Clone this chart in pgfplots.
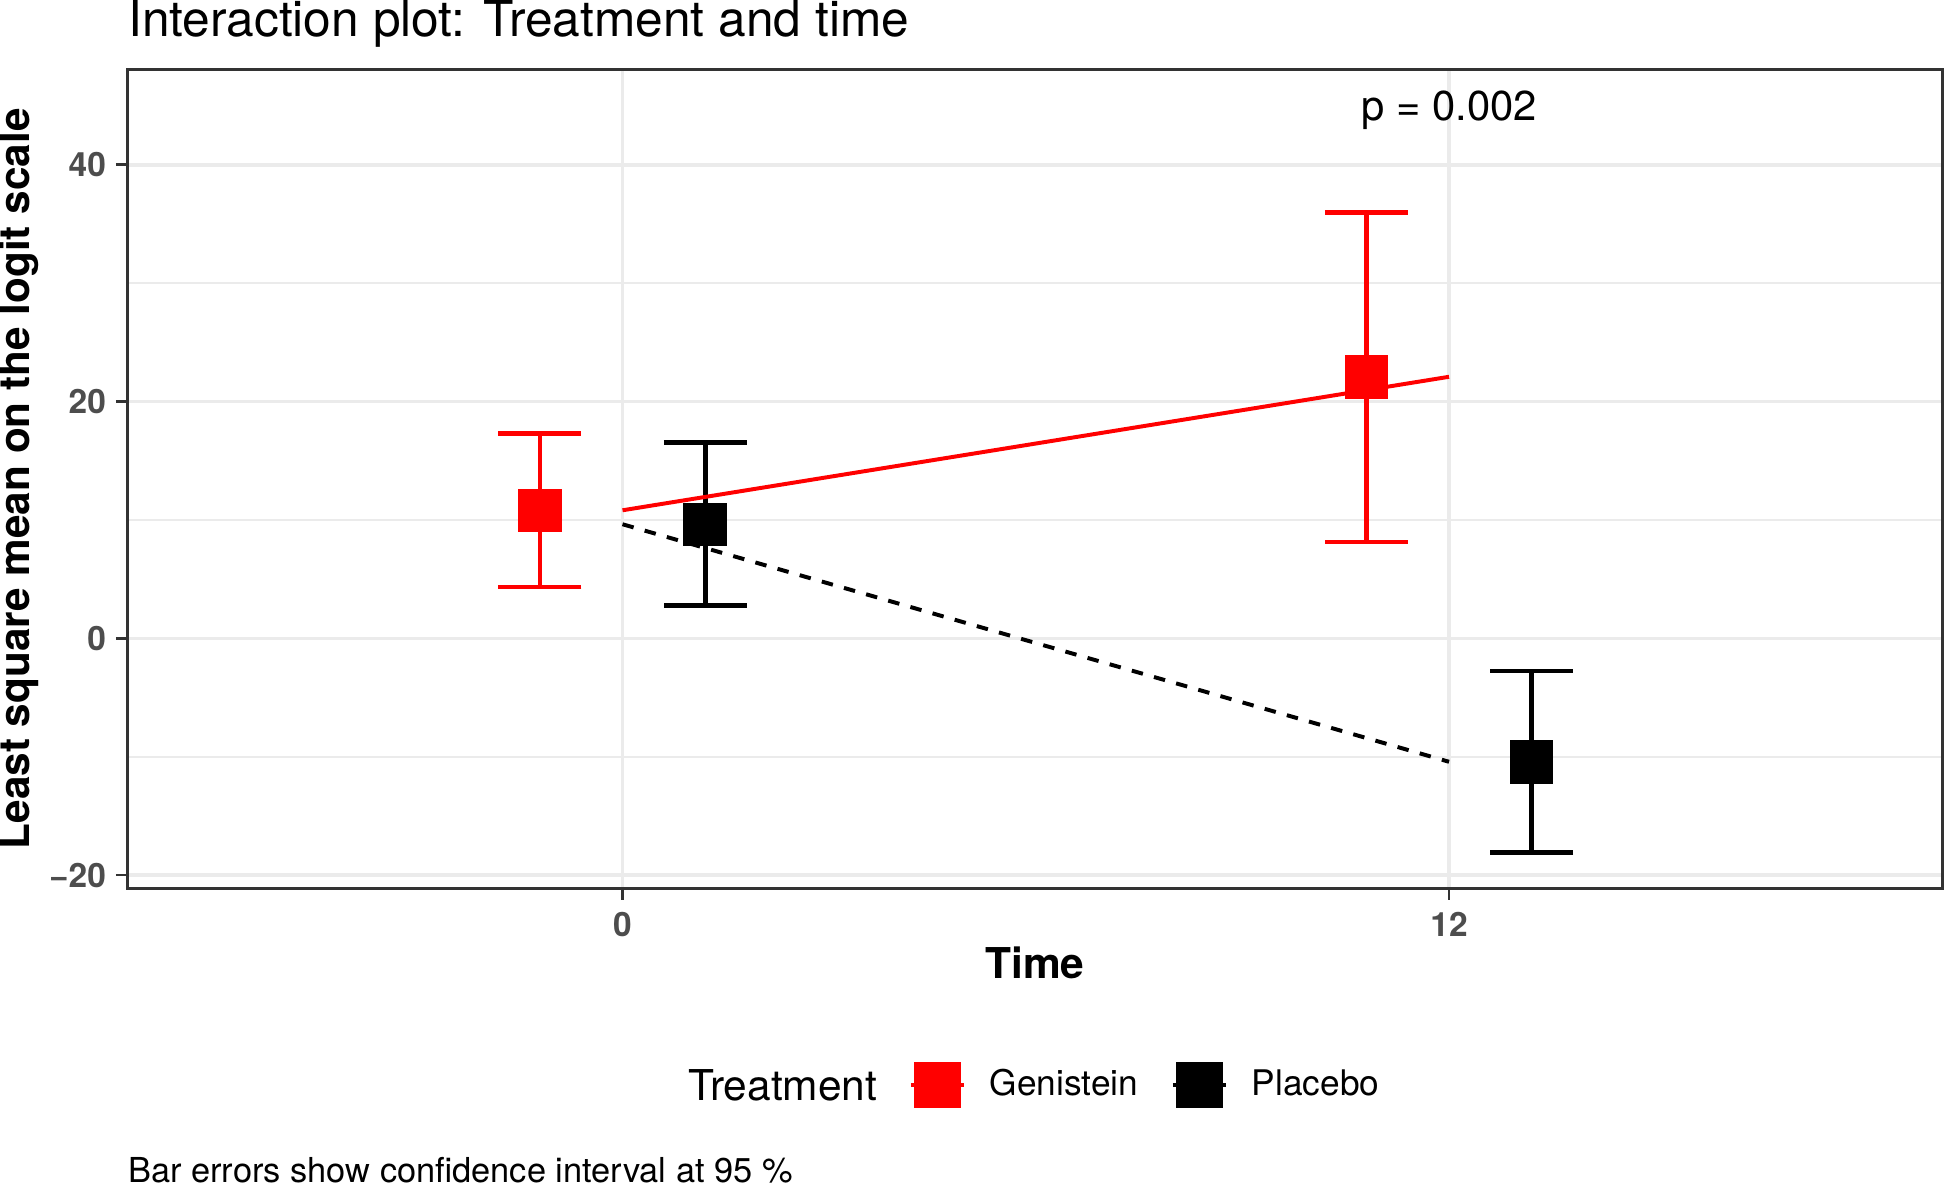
\documentclass[border=0pt]{standalone}
\usepackage{fontspec}
\setmainfont{TeX Gyre Heros}
\usepackage{pgfplots}
\pgfplotsset{compat=1.18}
\definecolor{gridgray}{RGB}{235,235,235}
\definecolor{ticklab}{RGB}{77,77,77}
\definecolor{border}{RGB}{51,51,51}
\begin{document}
\begin{tikzpicture}
\path[use as bounding box] (-35.42pt,-82.42pt) rectangle (504.86pt,246.75pt);
\begin{axis}[
  scale only axis,
  width=504.17pt, height=227.5pt,
  xmin=-7.187, xmax=19.165,
  ymin=-21.12, ymax=48.08,
  xtick={0,12},
  ytick={-20,0,20,40},
  yticklabels={−20,0,20,40},
  minor ytick={-10,10,30},
  xmajorgrids, ymajorgrids, yminorgrids,
  major grid style={color=gridgray, line width=1.0pt},
  minor grid style={color=gridgray, line width=0.5pt},
  axis line style={color=border, line width=0.8pt},
  tick pos=left,
  tick align=outside,
  major tick length=3.2pt,
  minor tick length=0pt,
  tick style={color=border, line width=0.8pt},
  /pgf/number format/assume math mode=true,
  ticklabel style={font=\bfseries\fontsize{9.3}{10}\selectfont, text=ticklab},
  xticklabel style={anchor=north, inner sep=0pt, yshift=-3.3pt},
  yticklabel style={anchor=east, inner sep=0pt, xshift=-2.6pt},
  every axis title shift=0pt,
  title={Interaction plot: Treatment and time},
  title style={at={(axis description cs:0,1)}, anchor=base west, inner sep=0pt, yshift=9.25pt, font=\fontsize{13.8}{15}\selectfont},
  xlabel={Time},
  xlabel style={at={(axis description cs:0.5,0)}, anchor=base, inner sep=0pt, yshift=-25pt, font=\bfseries\fontsize{11.8}{13}\selectfont},
  ylabel={Least square mean on the logit scale},
  ylabel style={at={([xshift=-27.1pt]axis description cs:0,0.5)}, anchor=base, inner sep=0pt, font=\bfseries\fontsize{11.75}{13}\selectfont},
  legend style={at={(axis description cs:0.4303,-0.2402)}, anchor=west, draw=none, fill=none, inner sep=0pt, outer sep=0pt,
    legend columns=-1, font=\fontsize{9.8}{11}\selectfont,
    nodes={inner sep=0pt},
    /tikz/every odd column/.append style={column sep=6.6pt},
    /tikz/every even column/.append style={column sep=9.0pt}},
]
\addlegendimage{legend image code/.code={\draw[line width=1.3pt, red] (0pt,0pt) -- (14.7pt,0pt); \fill[red] (1.1pt,-6.3pt) rectangle (13.6pt,6.3pt);}}
\addlegendentry{Genistein}
\addlegendimage{legend image code/.code={\draw[line width=1.3pt, black] (0pt,0pt) -- (14.7pt,0pt); \fill[black] (1.1pt,-6.3pt) rectangle (13.6pt,6.3pt);}}
\addlegendentry{Placebo}

% Genistein: means with 95% CI
\addplot[forget plot, red, only marks, mark=square*, mark size=5.9pt,
  mark options={solid, line width=0pt, draw=red, fill=red},
  error bars/.cd, y dir=both, y explicit, error mark=|,
  error bar style={line width=1.3pt, red},
  error mark options={line width=1.3pt, mark size=11.5pt, red}]
  table[x=x, y=y, y error plus=ep, y error minus=em] {
x y ep em
-1.2 10.82 6.49 6.48
10.8 22.10 13.90 13.96
};
% Placebo: means with 95% CI
\addplot[forget plot, black, only marks, mark=square*, mark size=5.9pt,
  mark options={solid, line width=0pt, draw=black, fill=black},
  error bars/.cd, y dir=both, y explicit, error mark=|,
  error bar style={line width=1.3pt, black},
  error mark options={line width=1.3pt, mark size=11.5pt, black}]
  table[x=x, y=y, y error plus=ep, y error minus=em] {
x y ep em
1.2 9.64 6.91 6.88
13.2 -10.43 7.66 7.69
};
% interaction lines
\addplot[forget plot, red, line width=1.1pt, mark=none] coordinates {(0,10.82) (12,22.10)};
\addplot[forget plot, black, line width=1.1pt, mark=none, dash pattern=on 3.2pt off 3.2pt] coordinates {(0,9.64) (12,-10.43)};

\node[anchor=base, inner sep=0pt, font=\fontsize{11.6}{13}\selectfont] at (axis cs:12,43.73) {p = 0.002};
\end{axis}
\node[anchor=east, inner sep=0pt, font=\fontsize{11.8}{13}\selectfont] at (208.5pt,-54.6pt) {Treatment};
\node[anchor=base west, inner sep=0pt, font=\fontsize{9.55}{11}\selectfont] at (0pt,-81.6pt) {Bar errors show confidence interval at 95 \%};
\end{tikzpicture}
\end{document}
